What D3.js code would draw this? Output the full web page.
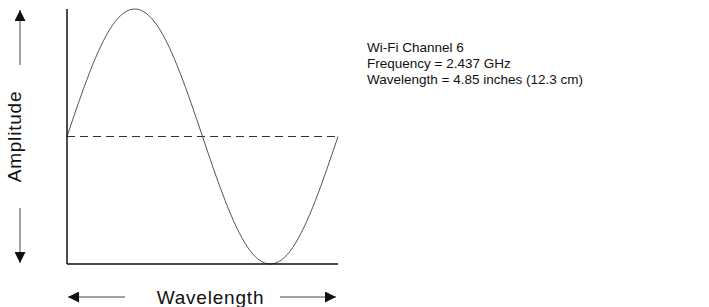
<!DOCTYPE html>
<html>
<head>
<meta charset="utf-8">
<script src="https://cdn.jsdelivr.net/npm/d3@7"></script>
<style>
  body { margin: 0; background: #fff; }
  text { font-family: "Liberation Sans", Arial, sans-serif; fill: #111; }
</style>
</head>
<body>
<div id="chart"></div>
<script>
// wave: position along one wavelength (0..1) vs amplitude (-1..1)
const wavePos = [0, 0.083, 0.167, 0.25, 0.333, 0.417, 0.5, 0.583, 0.667, 0.75, 0.833, 0.917, 1];
const waveAmp = [0, 0.5, 0.87, 1, 0.87, 0.5, 0, -0.5, -0.87, -1, -0.87, -0.5, 0];
const infoLines = ["Wi-Fi Channel 6", "Frequency = 2.437 GHz", "Wavelength = 4.85 inches (12.3 cm)"];
const xLabel = "Wavelength";
const yLabel = "Amplitude";

const width = 709, height = 307;
const margin = {top: 9, right: 371, bottom: 43, left: 67};

const svg = d3.select("#chart").append("svg")
    .attr("width", width)
    .attr("height", height);

const x = d3.scaleLinear().domain([0, 1]).range([margin.left, width - margin.right]);
const y = d3.scaleLinear().domain([-1, 1]).range([height - margin.bottom, margin.top]);

// arrow heads
const defs = svg.append("defs");
defs.append("marker")
    .attr("id", "head")
    .attr("viewBox", "0 0 10 10")
    .attr("refX", 10).attr("refY", 5)
    .attr("markerWidth", 16).attr("markerHeight", 11)
    .attr("markerUnits", "userSpaceOnUse")
    .attr("orient", "auto")
    .append("path")
    .attr("d", "M0,0 L10,5 L0,10 Z")
    .attr("fill", "#111");

// zero line (dashed)
svg.append("line")
    .attr("x1", x(0)).attr("x2", x(1))
    .attr("y1", y(0)).attr("y2", y(0))
    .attr("stroke", "#333")
    .attr("stroke-width", 1.2)
    .attr("stroke-dasharray", "8,5");

// the wave
const pts = wavePos.map((p, i) => [p, waveAmp[i]]);
svg.append("path")
    .datum(pts)
    .attr("fill", "none")
    .attr("stroke", "#555")
    .attr("stroke-width", 1)
    .attr("d", d3.line().x(d => x(d[0])).y(d => y(d[1])).curve(d3.curveNatural));

// axes lines
svg.append("line")
    .attr("x1", x(0)).attr("x2", x(0))
    .attr("y1", y(1)).attr("y2", y(-1))
    .attr("stroke", "#111").attr("stroke-width", 1.5);
svg.append("line")
    .attr("x1", x(0)).attr("x2", x(1))
    .attr("y1", y(-1)).attr("y2", y(-1))
    .attr("stroke", "#111").attr("stroke-width", 1.5);

// y label with arrows
const ax = 20;
const yMid = y(0);
svg.append("text")
    .attr("transform", `translate(${ax + 1},${yMid}) rotate(-90)`)
    .attr("text-anchor", "middle")
    .attr("font-size", 19)
    .attr("letter-spacing", 0.8)
    .text(yLabel);
svg.append("line")
    .attr("x1", ax).attr("x2", ax)
    .attr("y1", 65).attr("y2", 10)
    .attr("stroke", "#444").attr("stroke-width", 1)
    .attr("marker-end", "url(#head)");
svg.append("line")
    .attr("x1", ax).attr("x2", ax)
    .attr("y1", 208).attr("y2", 263)
    .attr("stroke", "#444").attr("stroke-width", 1)
    .attr("marker-end", "url(#head)");

// x label with arrows
const ay = 297;
svg.append("text")
    .attr("x", (x(0) + x(1)) / 2 + 8)
    .attr("y", 304)
    .attr("text-anchor", "middle")
    .attr("font-size", 19)
    .attr("letter-spacing", 0.8)
    .text(xLabel);
svg.append("line")
    .attr("x1", 125).attr("x2", 68)
    .attr("y1", ay).attr("y2", ay)
    .attr("stroke", "#444").attr("stroke-width", 1)
    .attr("marker-end", "url(#head)");
svg.append("line")
    .attr("x1", 280).attr("x2", 336)
    .attr("y1", ay).attr("y2", ay)
    .attr("stroke", "#444").attr("stroke-width", 1)
    .attr("marker-end", "url(#head)");

// info text
svg.append("g")
    .selectAll("text")
    .data(infoLines)
    .join("text")
    .attr("x", 367)
    .attr("y", (d, i) => 52 + i * 16)
    .attr("font-size", 13.5)
    .text(d => d);
</script>
</body>
</html>
